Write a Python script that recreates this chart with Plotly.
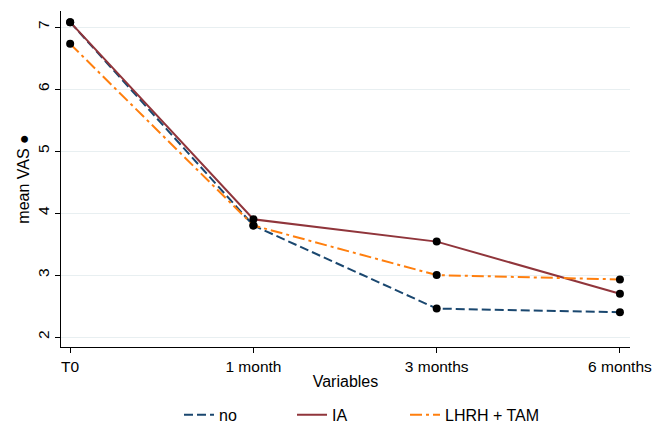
import plotly.graph_objects as go

categories = ["T0", "1 month", "3 months", "6 months"]
no_vals = [7.08, 3.80, 2.46, 2.40]
ia_vals = [7.08, 3.90, 3.54, 2.70]
lhrh_vals = [6.73, 3.80, 3.00, 2.93]
series_names = ["no", "IA", "LHRH + TAM"]
y_ticks = [2, 3, 4, 5, 6, 7]

x = list(range(len(categories)))
colors = ["#1a476f", "#90353b", "#ff7f0e"]
dashes = ["9px,4px", "solid", "12px,4px,3px,4px"]
values = [no_vals, ia_vals, lhrh_vals]
legend_ids = ["legend", "legend2", "legend3"]
legend_x = [0.2074, 0.406, 0.6046]

fig = go.Figure()
for name, vals, c, d, lg in zip(series_names, values, colors, dashes, legend_ids):
    fig.add_trace(go.Scatter(x=x, y=vals, mode="lines", name=name, legend=lg,
                             line=dict(color=c, width=2, dash=d)))
for name, vals in zip(series_names, values):
    fig.add_trace(go.Scatter(x=x, y=vals, mode="markers", showlegend=False,
                             marker=dict(color="black", size=8), hoverinfo="skip"))

font = "Liberation Sans, Arial, sans-serif"
legend_common = dict(orientation="h", xanchor="left", y=-0.202, yanchor="middle",
                     font=dict(size=16), bgcolor="rgba(0,0,0,0)")
fig.update_layout(
    width=665, height=425,
    margin=dict(l=61, r=35, t=11, b=78, autoexpand=False),
    paper_bgcolor="white", plot_bgcolor="white",
    font=dict(family=font, size=15.5, color="black"),
    xaxis=dict(range=[-0.05, 3.055], tickvals=x, ticktext=categories,
               tickfont=dict(size=15.5),
               showgrid=False, showline=True, linecolor="black", linewidth=1,
               ticks="outside", ticklen=5, tickcolor="black", zeroline=False,
               automargin=False,
               title=dict(text="Variables", standoff=2, font=dict(size=16))),
    yaxis=dict(range=[1.84, 7.26], tickvals=y_ticks, tickangle=-90,
               tickfont=dict(size=15.5),
               showgrid=True, gridcolor="#e8eff1", gridwidth=1,
               showline=True, linecolor="black", linewidth=1,
               ticks="outside", ticklen=5, tickcolor="black", zeroline=False,
               automargin=False,
               title=dict(text="mean VAS ●", standoff=1, font=dict(size=16))),
    legend=dict(x=legend_x[0], **legend_common),
    legend2=dict(x=legend_x[1], **legend_common),
    legend3=dict(x=legend_x[2], **legend_common),
)
fig.write_html("out.html", config={"displayModeBar": False},
               post_script="document.body.style.margin='0';document.body.style.overflow='hidden';")
